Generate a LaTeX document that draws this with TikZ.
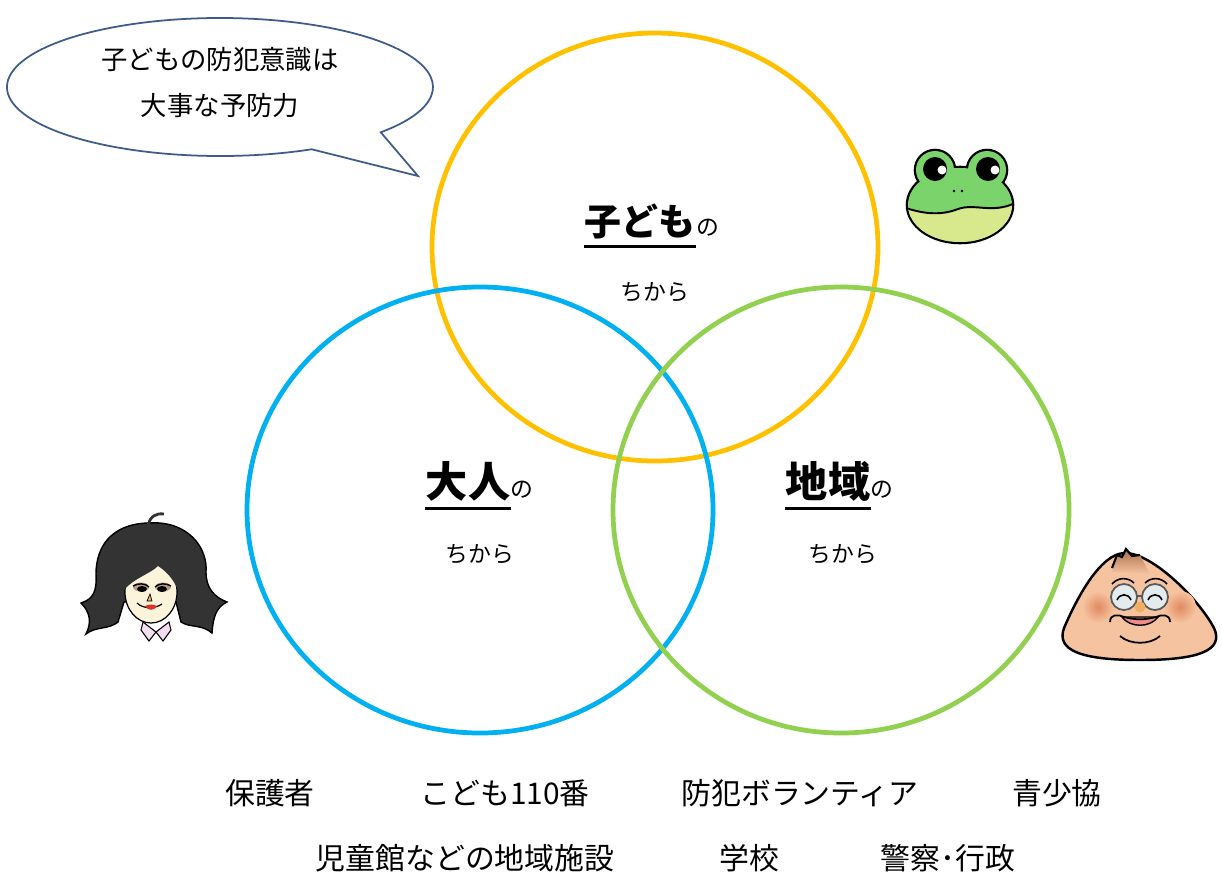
\documentclass[tikz,border=0pt]{standalone}
\usepackage{fontspec}
\setmainfont{Noto Sans CJK JP}
\usetikzlibrary{positioning,calc}

\definecolor{kodomoYellow}{HTML}{FFC000}
\definecolor{otonaBlue}{HTML}{00B0F0}
\definecolor{chiikiGreen}{HTML}{92D050}
\definecolor{bubbleLine}{HTML}{3E5B8C}
\definecolor{frogGreen}{HTML}{7BD36B}
\definecolor{frogBelly}{HTML}{D8E88C}
\definecolor{hairGray}{HTML}{333333}
\definecolor{skinLight}{HTML}{FCF4DA}
\definecolor{collarPink}{HTML}{F3DDF0}
\definecolor{lipRed}{HTML}{D8322A}
\definecolor{shadowBrown}{HTML}{B89C8A}
\definecolor{noseOrange}{HTML}{EFAE62}
\definecolor{skinTan}{HTML}{F6C3A0}
\definecolor{cheekRed}{HTML}{E08A60}
\definecolor{hairBrown}{HTML}{A8704A}
\definecolor{glassGrey}{HTML}{E4EBEE}
\definecolor{mouthPink}{HTML}{EF8C8C}

\begin{document}
\begin{tikzpicture}[x=0.02cm, y=-0.02cm, >=stealth,
    ring/.style={line width=2.7pt},
    title/.style={font=\fontsize{21}{24}\selectfont\bfseries, inner sep=0pt},
    bigtitle/.style={font=\fontsize{24}{27}\selectfont\bfseries, inner sep=0pt},
    nolabel/.style={font=\fontsize{13}{15}\selectfont, inner sep=0pt},
    uline/.style={line width=1.7pt},
    member/.style={font=\fontsize{17}{20}\selectfont, inner sep=0pt},
    say/.style={font=\fontsize{15}{18}\selectfont, inner sep=0pt},
    outline/.style={draw=black, line width=1.1pt}]
  \useasboundingbox (0,0) rectangle (1222,876);
  \fill[white] (0,0) rectangle (1222,876);

  % the three rings
  \coordinate (kodomo) at (655,247);
  \coordinate (otona) at (480,510);
  \coordinate (chiiki) at (841,510);
  \draw[ring, kodomoYellow] (kodomo) ellipse [x radius=223, y radius=214];
  \draw[ring, otonaBlue] (otona) ellipse [x radius=233, y radius=223];
  \draw[ring, chiikiGreen] (chiiki) ellipse [x radius=228, y radius=223];

  % ring titles
  \node[title, anchor=base] (kodomoT) at (640,235) {子ども};
  \node[nolabel, anchor=base west] (kodomoN) at (kodomoT.base east) {の};
  \draw[uline] ([yshift=-6.3pt]kodomoT.base west) -- ([yshift=-6.3pt]kodomoT.base east);
  \node[nolabel] (kodomoC) at (655,292) {ちから};

  \node[bigtitle, anchor=base] (otonaT) at (468,497) {大人};
  \node[nolabel, anchor=base west] (otonaN) at (otonaT.base east) {の};
  \draw[uline] ([yshift=-6.3pt]otonaT.base west) -- ([yshift=-6.3pt]otonaT.base east);
  \node[nolabel] (otonaC) at (480,554) {ちから};

  \node[bigtitle, anchor=base] (chiikiT) at (828,497) {地域};
  \node[nolabel, anchor=base west] (chiikiN) at (chiikiT.base east) {の};
  \draw[uline] ([yshift=-6.3pt]chiikiT.base west) -- ([yshift=-6.3pt]chiikiT.base east);
  \node[nolabel] (chiikiC) at (843,554) {ちから};

  % speech bubble
  \coordinate (bub) at (220,87);
  \draw[bubbleLine, line width=1pt, fill=white]
    ($(bub)+(64.5:213 and 69)$) arc [start angle=64.5, end angle=401, x radius=213, y radius=69]
    -- (418,176) -- cycle;
  \node[say] (say1) at (220,60) {子どもの防犯意識は};
  \node[say] (say2) at (220,106) {大事な予防力};

  % frog
  \coordinate (frog) at (960,205);
  \draw[line width=2.6pt] (frog) ellipse [x radius=52, y radius=37];
  \draw[line width=2.6pt] (935,170) circle [radius=19];
  \draw[line width=2.6pt] (987,170) circle [radius=19];
  \fill[frogGreen] (frog) ellipse [x radius=52, y radius=37];
  \fill[frogGreen] (935,170) circle [radius=19];
  \fill[frogGreen] (987,170) circle [radius=19];
  \begin{scope}
    \clip (frog) ellipse [x radius=52, y radius=37];
    \fill[frogBelly] (900,206) .. controls (922,214) and (940,216) .. (958,209)
      .. controls (975,203) and (992,214) .. (1015,203) -- (1015,250) -- (900,250) -- cycle;
    \draw[line width=1.1pt] (900,206) .. controls (922,214) and (940,216) .. (958,209)
      .. controls (975,203) and (992,214) .. (1015,203);
  \end{scope}
  \fill (935,169) circle [radius=12];
  \fill (988,169) circle [radius=12];
  \fill[white] (942,170) circle [radius=4.5];
  \fill[white] (995,170) circle [radius=4.5];
  \fill (954,191) circle [radius=1.3];
  \fill (962,191) circle [radius=1.3];

  % woman
  \filldraw[fill=hairGray, draw=black, line width=0.8pt]
    (148,523) .. controls (188,520) and (208,548) .. (206,572)
    .. controls (206,588) and (214,597) .. (227,602)
    .. controls (216,607) and (213,618) .. (212,633)
    .. controls (202,624) and (190,628) .. (181,622)
    -- (176,602) -- (124,602) -- (118,622)
    .. controls (108,630) and (96,626) .. (86,634)
    .. controls (92,622) and (90,612) .. (81,603)
    .. controls (94,599) and (97,590) .. (96,574)
    .. controls (96,546) and (112,524) .. (148,523) -- cycle;
  \draw[hairGray, line width=1.6pt] (148,526) .. controls (150,516) and (156,513) .. (164,514);
  \filldraw[fill=collarPink, draw=black, line width=0.6pt] (143,622) -- (156,632) -- (149,641) -- (141,630) -- cycle;
  \filldraw[fill=collarPink, draw=black, line width=0.6pt] (169,622) -- (156,632) -- (163,641) -- (171,630) -- cycle;
  \filldraw[fill=skinLight, draw=black, line width=0.7pt] (151,592) ellipse [x radius=26, y radius=31];
  \fill[hairGray] (124,590) .. controls (122,568) and (138,558) .. (156,559)
    .. controls (172,560) and (181,572) .. (178,590)
    .. controls (172,576) and (164,570) .. (158,566)
    .. controls (150,574) and (134,578) .. (124,590) -- cycle;
  \fill[shadowBrown] (141,587) ellipse [x radius=8, y radius=4.5];
  \fill[shadowBrown] (163,587) ellipse [x radius=8, y radius=4.5];
  \fill (142,589) ellipse [x radius=5, y radius=3];
  \fill (162,589) ellipse [x radius=5, y radius=3];
  \draw[line width=0.8pt] (133,586) .. controls (138,583) and (145,583) .. (149,587);
  \draw[line width=0.8pt] (155,587) .. controls (159,583) and (166,583) .. (171,586);
  \filldraw[fill=noseOrange, draw=black, line width=0.4pt] (150,594) -- (147,601) -- (152,601) -- cycle;
  \draw[line width=0.7pt] (137,603) .. controls (143,609) and (155,609) .. (162,604);
  \fill[lipRed] (145,606) .. controls (149,604) and (153,604) .. (157,606)
    .. controls (154,611) and (148,611) .. (145,606) -- cycle;

  % old man
  \coordinate (oldman) at (1140,610);
  \filldraw[fill=skinTan, draw=black, line width=1.4pt]
    (1125,553) .. controls (1152,553) and (1198,598) .. (1214,628)
    .. controls (1224,650) and (1200,660) .. (1140,660)
    .. controls (1080,660) and (1056,650) .. (1064,628)
    .. controls (1076,600) and (1100,553) .. (1125,553) -- cycle;
  \shade[top color=hairBrown, bottom color=skinTan]
    (1112,572) -- (1117,555) -- (1122,557) -- (1126,549) -- (1132,556) -- (1140,555) -- (1150,574) -- cycle;
  \draw[line width=1.2pt] (1112,568) -- (1117,555) -- (1122,557) -- (1126,549) -- (1132,556) -- (1140,555);
  \shade[inner color=cheekRed, outer color=skinTan] (1098,607) circle [radius=16];
  \shade[inner color=cheekRed, outer color=skinTan] (1180,607) circle [radius=16];
  \draw[line width=0.9pt] (1112,584) .. controls (1118,577) and (1128,577) .. (1134,583);
  \draw[line width=0.9pt] (1145,583) .. controls (1151,577) and (1161,577) .. (1167,584);
  \filldraw[fill=glassGrey, draw=gray!70!black, line width=1pt] (1124,597) circle [radius=13];
  \filldraw[fill=glassGrey, draw=gray!70!black, line width=1pt] (1155,597) circle [radius=13];
  \draw[gray!70!black, line width=1pt] (1137,596) -- (1142,596);
  \draw[line width=0.9pt] (1117,600) .. controls (1120,593) and (1128,593) .. (1131,600);
  \draw[line width=0.9pt] (1148,600) .. controls (1151,593) and (1159,593) .. (1162,600);
  \filldraw[fill=noseOrange, draw=none] (1140,607) circle [radius=5.5];
  \filldraw[fill=mouthPink, draw=black, line width=0.8pt]
    (1122,617) .. controls (1130,628) and (1150,628) .. (1158,617) -- cycle;
  \draw[line width=1pt] (1110,622) .. controls (1110,614) and (1118,614) .. (1124,617)
    .. controls (1135,620) and (1145,620) .. (1156,617)
    .. controls (1162,614) and (1170,614) .. (1170,622);
  \draw[line width=1pt] (1120,636) .. controls (1130,645) and (1150,645) .. (1160,636);

  % who takes part
  \node[member] (hogosha) at (270,793) {保護者};
  \node[member] (kodomo110) at (505,793) {こども110番};
  \node[member] (volunteer) at (800,793) {防犯ボランティア};
  \node[member] (seishokyo) at (1057,793) {青少協};
  \node[member] (jidokan) at (465,858) {児童館などの地域施設};
  \node[member] (gakko) at (749,858) {学校};
  \node[member] (keisatsu) at (948,858) {警察･行政};
\end{tikzpicture}
\end{document}
